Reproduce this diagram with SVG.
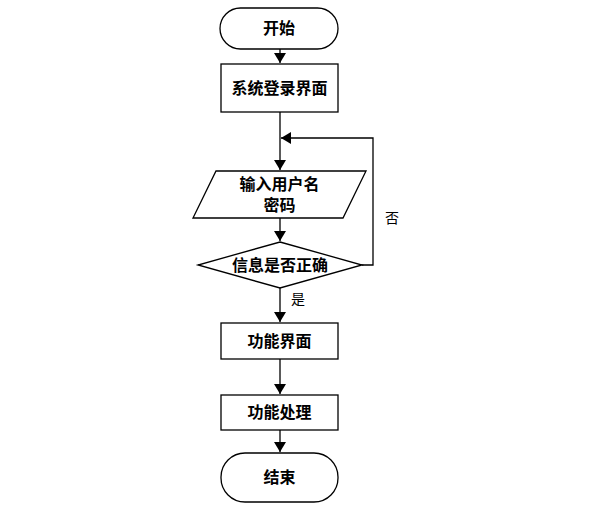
<svg xmlns="http://www.w3.org/2000/svg" width="601" height="510" viewBox="0 0 601 510">
<defs>
<marker id="ah" markerWidth="10" markerHeight="12" refX="10" refY="6" orient="auto" markerUnits="userSpaceOnUse">
<path d="M0,0 L10,6 L0,12 Z" fill="#000"/>
</marker>
<style>
.s{fill:#fff;stroke:#000;stroke-width:1.3}
.t{font-family:"Liberation Sans","Noto Sans CJK SC",sans-serif;font-size:16px;font-weight:bold;fill:#000;text-anchor:middle}
.l{font-family:"Liberation Sans","Noto Sans CJK SC",sans-serif;font-size:14px;fill:#000;text-anchor:middle}
.c{fill:none;stroke:#000;stroke-width:1.3;marker-end:url(#ah)}
</style>
</defs>
<rect width="601" height="510" fill="#fff"/>
<g id="connectors">
<path class="c" d="M280,49 L280,63"/>
<path class="c" d="M280,112 L280,170"/>
<path class="c" d="M280,218 L280,241"/>
<path class="c" d="M362,265 L373,265 L373,138 L281,138"/>
<path class="c" d="M280,288 L280,322"/>
<path class="c" d="M280,359 L280,394"/>
<path class="c" d="M280,430 L280,452"/>
</g>
<g id="start"><rect class="s" x="220" y="8" width="118" height="41" rx="20.5"/><text class="t" x="279" y="34">开始</text></g>
<g id="login"><rect class="s" x="221" y="64" width="117" height="48"/><text class="t" x="279.5" y="94">系统登录界面</text></g>
<g id="input"><polygon class="s" points="216,171 366,171 343,218 193,218"/><text class="t" x="279.5" y="190">输入用户名</text><text class="t" x="279.5" y="211">密码</text></g>
<g id="check"><polygon class="s" points="280,242 362,265 280,288 198,265"/><text class="t" x="280" y="271">信息是否正确</text></g>
<g id="func"><rect class="s" x="221" y="323" width="117" height="36"/><text class="t" x="279.5" y="347">功能界面</text></g>
<g id="proc"><rect class="s" x="221" y="395" width="117" height="35"/><text class="t" x="279.5" y="418">功能处理</text></g>
<g id="end"><rect class="s" x="221" y="453" width="117" height="49" rx="24"/><text class="t" x="279.5" y="483">结束</text></g>
<text class="l" x="392" y="223">否</text>
<text class="l" x="298" y="304">是</text>
</svg>
